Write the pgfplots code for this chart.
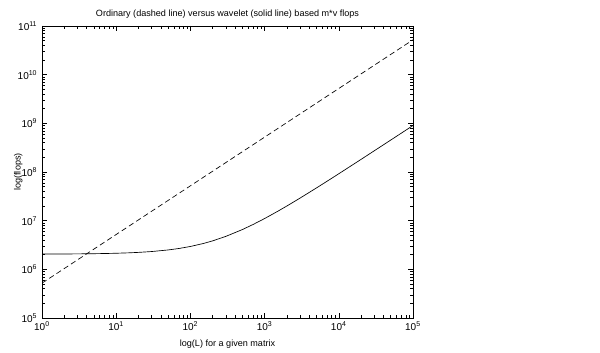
\documentclass[border=0pt]{standalone}
\usepackage{fontspec}
\setmainfont{Liberation Sans}
\usepackage{pgfplots}
\pgfplotsset{compat=1.18}
\begin{document}
\begin{tikzpicture}[x=1pt,y=1pt]
\useasboundingbox (0,0) rectangle (450,264.75);
\begin{axis}[
  at={(31.5pt,26.25pt)}, anchor=south west,
  scale only axis, width=278.25pt, height=219pt,
  xmode=log, ymode=log,
  xmin=1, xmax=1e5, ymin=1e5, ymax=1e11,
  xtick={1,10,100,1000,10000,100000},
  xticklabels={10\textsuperscript{0},10\textsuperscript{1},10\textsuperscript{2},10\textsuperscript{3},10\textsuperscript{4},10\textsuperscript{5}},
  ytick={1e5,1e6,1e7,1e8,1e9,1e10,1e11},
  yticklabels={10\textsuperscript{5},10\textsuperscript{6},10\textsuperscript{7},10\textsuperscript{8},10\textsuperscript{9},10\textsuperscript{10},10\textsuperscript{11}},
  tick align=inside, xtick pos=both, ytick pos=both,
  major tick length=3.5pt, minor tick length=2pt,
  every tick/.style={black, line width=0.4pt},
  axis line style={line width=0.5pt},
  tick label style={font=\fontsize{7.5}{8}\selectfont},
  label style={font=\fontsize{6.8}{7}\selectfont},
  title style={font=\fontsize{6.8}{7}\selectfont, yshift=-4pt},
  title={Ordinary (dashed line) versus wavelet (solid line) based m*v flops},
  xlabel={log(L) for a given matrix},
  ylabel={log(flops)},
  xlabel style={yshift=0pt},
  ylabel style={at={(axis description cs:-0.088,0.5)}, anchor=north},
  xticklabel style={yshift=1pt},
]
\addplot[black, line width=0.5pt, dash pattern=on 4pt off 2.5pt] coordinates {
(1,5.2e5) (100000,5.2e10)};
\addplot[black, line width=0.5pt] coordinates {
(1,2059000) (2,2068000) (3,2077000) (5,2095000) (7,2113000) (10,2140000)
(15,2185000) (20,2230000) (30,2320000) (50,2500000) (70,2680000)
(100,2950000) (150,3400000) (200,3850000) (300,4750000) (500,6550000)
(700,8350000) (1000,11050000) (1500,15550000) (2000,20050000)
(3000,29050000) (5000,47050000) (7000,65050000) (10000,92050000)
(20000,182050000) (50000,452050000) (100000,902050000)};
\end{axis}
\end{tikzpicture}
\end{document}
